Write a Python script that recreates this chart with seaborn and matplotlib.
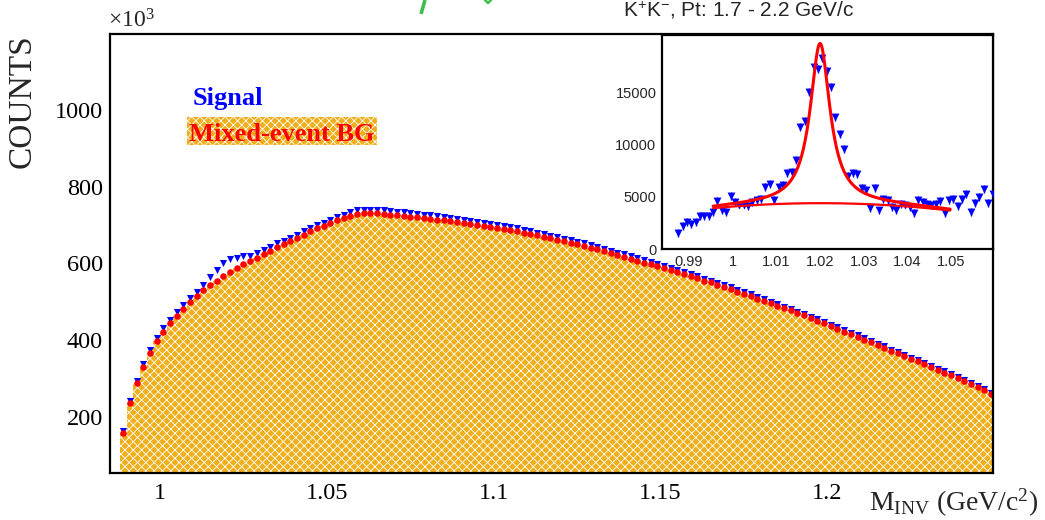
import numpy as np
import pandas as pd
import matplotlib
matplotlib.use("Agg")
import matplotlib.pyplot as plt
import matplotlib.patches as mpatches
from matplotlib.lines import Line2D
from matplotlib.ticker import MultipleLocator, FixedLocator
import seaborn as sns

# ---- main histogram: K+K- invariant mass, 2 MeV bins (counts in units of 10^3) ----
bin_lo = 0.988
bin_width = 0.002
bg_counts = [
    158, 236, 288, 330, 366, 396, 421, 443, 463, 481,
    498, 514, 529, 543, 555, 566, 577, 587, 597, 606,
    615, 624, 633, 642, 650, 658, 667, 675, 683, 691,
    698, 705, 712, 718, 724, 728, 731, 731, 730, 729,
    727, 726, 724, 722, 720, 718, 716, 714, 712, 710,
    708, 705, 703, 700, 698, 695, 692, 689, 686, 683,
    680, 677, 673, 669, 665, 661, 657, 653, 649, 645,
    641, 636, 631, 627, 622, 617, 612, 607, 602, 597,
    592, 587, 582, 577, 572, 566, 561, 555, 550, 544,
    538, 532, 526, 520, 514, 508, 502, 496, 489, 483,
    477, 470, 464, 457, 450, 443, 436, 429, 422, 415,
    408, 401, 394, 387, 380, 372, 365, 358, 351, 344,
    337, 330, 322, 315, 308, 300, 293, 285, 277, 269,
    258,
]
signal_counts = [
    163, 241, 294, 337, 374, 405, 430, 451, 472, 492,
    509, 526, 544, 563, 582, 601, 612, 615, 618, 620,
    628, 634, 643, 652, 658, 667, 674, 684, 692, 700,
    706, 714, 722, 726, 735, 738, 740, 740, 739, 738,
    736, 735, 733, 731, 729, 727, 725, 723, 721, 718,
    716, 713, 711, 708, 706, 703, 700, 697, 694, 691,
    688, 684, 680, 676, 672, 668, 664, 660, 656, 652,
    648, 642, 637, 633, 628, 623, 618, 613, 608, 603,
    598, 592, 587, 582, 577, 571, 566, 560, 555, 549,
    543, 537, 531, 525, 519, 513, 506, 500, 493, 487,
    481, 474, 468, 461, 454, 447, 440, 433, 426, 419,
    412, 404, 397, 390, 383, 375, 368, 361, 354, 347,
    340, 333, 325, 318, 311, 303, 296, 288, 280, 272,
    261,
]

# ---- inset: background-subtracted spectrum, 1 MeV bins ----
inset_lo = 0.987
inset_width = 0.001
inset_counts = [
    1540, 2240, 2630, 2400, 2560, 3200, 3140, 3170, 3530, 4580,
    3690, 3530, 5060, 4490, 4260, 4260, 4100, 4460, 4710, 4810,
    5930, 6250, 4740, 5930, 6090, 7280, 7400, 8530, 11700, 12280,
    15060, 17470, 17240, 18270, 17050, 15540, 12600, 11060, 9550, 6990,
    7310, 7210, 5870, 5610, 3910, 5870, 3690, 4810, 4650, 4010,
    3750, 4330, 4260, 4010, 3430, 4650, 4490, 4330, 4230, 4330,
    4580, 3460, 4650, 4810, 4100, 4810, 5290, 3530, 4420, 4970,
    5770, 4420, 5290,
]
inset_err = 380
inset_yticks = [0, 5000, 10000, 15000]

# Breit-Wigner + 2nd-order polynomial fit
phi_mass = 1.0200
phi_gamma = 0.0055
phi_amp = 15300
bg_p0, bg_p1, bg_p2 = 4390, 94, -795850
fit_lo, fit_hi = 0.9955, 1.0498

fill_color = "#EFAE1A"
W, H = 1045, 520

sns.set_style("white")
plt.rcParams.update({
    "font.family": ["Liberation Serif", "DejaVu Serif"],
    "mathtext.fontset": "custom",
    "mathtext.rm": "Liberation Serif",
    "mathtext.it": "Liberation Serif:italic",
    "mathtext.bf": "Liberation Serif:bold",
    "mathtext.sf": "Liberation Sans",
    "hatch.color": "white",
    "hatch.linewidth": 0.6,
    "axes.linewidth": 1.6,
    "axes.edgecolor": "black",
})

fig = plt.figure(figsize=(W / 100, H / 100), dpi=100)


def px_axes(left, top, right, bottom):
    return [left / W, 1 - bottom / H, (right - left) / W, (bottom - top) / H]


ax = fig.add_axes(px_axes(110, 34, 993, 473))

edges = bin_lo + bin_width * np.arange(len(bg_counts) + 1)
centers = 0.5 * (edges[:-1] + edges[1:])
main_df = pd.DataFrame({"mass": centers, "bg": bg_counts, "signal": signal_counts})

sns.histplot(data=main_df, x="mass", weights="bg", binwidth=bin_width,
             binrange=(edges[0], edges[-1]), element="step", fill=True,
             color=fill_color, alpha=1, edgecolor="white", linewidth=0,
             hatch="xxxx", ax=ax, zorder=1)
sns.scatterplot(data=main_df, x="mass", y="signal", marker="v", color="#0000FF", s=26,
                linewidth=0, ax=ax, zorder=3)
sns.scatterplot(data=main_df, x="mass", y="bg", marker="o", color="#FF0000", s=22,
                linewidth=0, ax=ax, zorder=4)

ax.set_xlim(0.985, 1.2496)
ax.set_ylim(53, 1198)
ax.xaxis.set_major_locator(MultipleLocator(0.05))
ax.xaxis.set_minor_locator(MultipleLocator(0.01))
ax.yaxis.set_major_locator(MultipleLocator(200))
ax.yaxis.set_minor_locator(MultipleLocator(50))
ax.xaxis.set_major_formatter(plt.FuncFormatter(lambda v, p: f"{v:g}"))
ax.tick_params(axis="both", which="both", direction="in", width=1.0, colors="black",
               top=False, right=False, labelsize=17.5)
ax.tick_params(axis="x", which="major", length=9.5, pad=7)
ax.tick_params(axis="x", which="minor", length=4.5)
ax.tick_params(axis="y", which="major", length=18, pad=5)
ax.tick_params(axis="y", which="minor", length=9)
for sp in ax.spines.values():
    sp.set_linewidth(1.6)
    sp.set_zorder(5)

ax.set_ylabel("COUNTS", fontsize=24, loc="top")
ax.yaxis.set_label_coords((38 - 110) / 883, 1.0)
ax.set_xlabel(r"M$_{\rm INV}$ (GeV/c$^{2}$)", fontsize=20, loc="right")
ax.xaxis.set_label_coords((1038 - 110) / 883, (473 - 487) / 439)

ax.text(-0.002, 1.004, r"$\times$10$^{3}$", transform=ax.transAxes, fontsize=17,
        ha="left", va="bottom")

# legend
fig.patches.append(mpatches.Rectangle((187 / W, 1 - 145 / H), 190 / W, 28 / H,
                                      transform=fig.transFigure, facecolor=fill_color,
                                      edgecolor="white", linewidth=0, hatch="xxxx",
                                      zorder=6))
fig.text(193 / W, 1 - 105.5 / H, "Signal", color="#0000FF", fontsize=19,
         fontweight="bold", ha="left", va="baseline", zorder=7)
fig.text(189 / W, 1 - 141 / H, "Mixed-event BG", color="#FF0000", fontsize=19,
         fontweight="bold", ha="left", va="baseline", zorder=7)

# title
fig.text(623 / W, 1 - 16.7 / H, r"K$^{\mathsf{+}}$K$^{\mathsf{-}}$, Pt: 1.7 - 2.2 GeV/c",
         family=["Liberation Sans"], fontsize=15.0, ha="left", va="baseline")

# green strokes of the banner cut by the top edge
green = "#3DBE4B"
fig.add_artist(Line2D([425 / W, 421 / W], [1.0, 1 - 14 / H], transform=fig.transFigure,
                      color=green, lw=2.6, solid_capstyle="butt"))
fig.add_artist(Line2D([485 / W, 488 / W, 491 / W], [1.0, 1 - 3.0 / H, 1.0],
                      transform=fig.transFigure, color=green, lw=1.8))

# ---- inset ----
axi = fig.add_axes(px_axes(662, 35, 993, 249))
axi.set_facecolor("white")
icenters = inset_lo + inset_width * (np.arange(len(inset_counts)) + 0.5)
axi.errorbar(icenters, inset_counts, yerr=inset_err, fmt="none", ecolor="#0000FF",
             elinewidth=1.0, capsize=0, zorder=2)
sns.scatterplot(x=icenters, y=inset_counts, marker="v", color="#0000FF", s=32,
                linewidth=0, ax=axi, zorder=3)

xf = np.linspace(fit_lo, fit_hi, 400)
uf = xf - phi_mass
bg_fit = bg_p0 + bg_p1 * uf + bg_p2 * uf ** 2
half = phi_gamma / 2
total_fit = bg_fit + phi_amp * half ** 2 / (uf ** 2 + half ** 2)
axi.plot(xf, bg_fit, color="#FF0000", lw=1.6, zorder=4)
axi.plot(xf, total_fit, color="#FF0000", lw=2.2, zorder=4)

axi.set_xlim(0.9838, 1.0596)
axi.set_ylim(0, 20500)
axi.xaxis.set_major_locator(MultipleLocator(0.01))
axi.xaxis.set_minor_locator(MultipleLocator(0.002))
axi.yaxis.set_major_locator(FixedLocator(inset_yticks))
axi.yaxis.set_minor_locator(MultipleLocator(1000))
axi.xaxis.set_major_formatter(plt.FuncFormatter(lambda v, p: f"{v:g}"))
axi.yaxis.set_major_formatter(plt.FuncFormatter(lambda v, p: f"{v:.0f}"))
axi.tick_params(axis="both", which="both", direction="in", width=0.8, top=False,
                right=False, labelsize=10.5)
for lab in axi.get_xticklabels() + axi.get_yticklabels():
    lab.set_family(["Liberation Sans"])
axi.tick_params(axis="y", which="major", length=6, pad=4)
axi.tick_params(axis="y", which="minor", length=3)
axi.tick_params(axis="x", which="major", length=4, pad=4)
axi.tick_params(axis="x", which="minor", length=2)
axi.set_xlabel("")
axi.set_ylabel("")
for sp in axi.spines.values():
    sp.set_linewidth(1.6)

fig.savefig("out.png", dpi=100)
